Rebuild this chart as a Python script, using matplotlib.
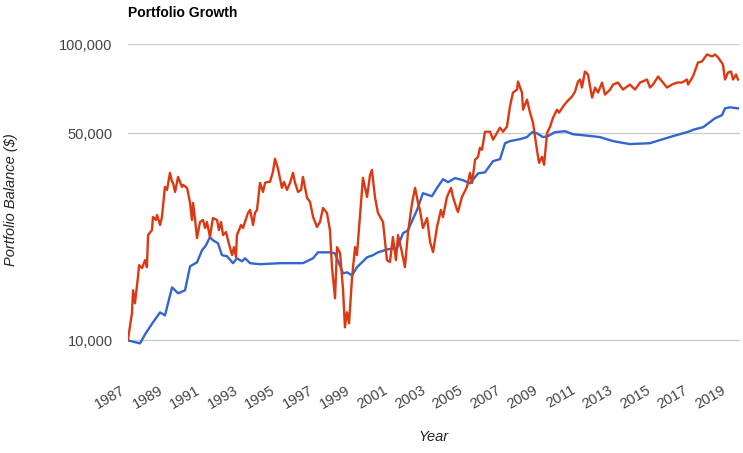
import matplotlib
matplotlib.use('Agg')
import matplotlib.pyplot as plt
from matplotlib.ticker import FixedLocator, FuncFormatter, NullLocator

plt.rcParams['font.family'] = ['Liberation Sans', 'DejaVu Sans']

# portfolio 1 (blue, smooth)
blue_years = [1987.00, 1987.64, 1987.91, 1988.33, 1988.71, 1988.97, 1989.35, 1989.67,
              1990.04, 1990.31, 1990.68, 1990.95, 1991.16, 1991.37, 1991.53, 1991.80,
              1992.01, 1992.28, 1992.60, 1992.81, 1993.08, 1993.24, 1993.51, 1994.04,
              1995.11, 1996.33, 1996.87, 1997.13, 1997.77, 1998.04, 1998.47, 1998.68,
              1998.95, 1999.21, 1999.75, 2000.07, 2000.33, 2000.87, 2001.35, 2001.67,
              2001.93, 2002.41, 2002.73, 2003.21, 2003.48, 2003.80, 2004.07, 2004.44,
              2004.87, 2005.24, 2005.67, 2006.04, 2006.47, 2006.84, 2007.11, 2007.37,
              2007.91, 2008.28, 2008.55, 2008.81, 2009.13, 2009.40, 2009.77, 2010.31,
              2010.73, 2011.27, 2012.17, 2012.87, 2013.77, 2014.84, 2015.37, 2016.07,
              2016.81, 2017.24, 2017.67, 2018.31, 2018.68, 2018.84, 2019.11, 2019.53]
blue_values = [10000, 9770, 10480, 11500, 12430, 12140, 15100, 14420,
               14750, 17780, 18340, 20150, 20950, 22300, 21770, 21270,
               19390, 19230, 18220, 18930, 18480, 18930, 18220, 18070,
               18220, 18220, 18930, 19820, 19820, 19650, 16830, 16970,
               16570, 17650, 19070, 19390, 19820, 20300, 20470, 23000,
               23530, 27500, 31380, 30650, 32670, 34990, 34180, 35290,
               34710, 33870, 36600, 36900, 40240, 40890, 46280, 47020,
               47770, 48520, 50400, 50000, 48520, 48900, 50400, 50800,
               49610, 49230, 48520, 47020, 45950, 46280, 47390, 48900,
               50400, 51580, 52380, 56170, 57520, 60660, 61130, 60660]

# portfolio 2 (red, volatile)
red_years = [1987.00, 1987.21, 1987.27, 1987.37, 1987.53, 1987.59, 1987.75, 1987.91,
             1988.01, 1988.07, 1988.28, 1988.33, 1988.49, 1988.55, 1988.71, 1988.81,
             1988.97, 1989.08, 1989.24, 1989.35, 1989.40, 1989.51, 1989.67, 1989.88,
             1989.93, 1990.15, 1990.31, 1990.41, 1990.47, 1990.57, 1990.68, 1990.84,
             1991.00, 1991.11, 1991.21, 1991.37, 1991.53, 1991.75, 1991.85, 1991.96,
             1992.07, 1992.23, 1992.33, 1992.55, 1992.65, 1992.76, 1992.81, 1993.03,
             1993.13, 1993.40, 1993.51, 1993.67, 1993.77, 1993.88, 1994.04, 1994.20,
             1994.31, 1994.47, 1994.57, 1994.73, 1994.84, 1995.00, 1995.21, 1995.32,
             1995.48, 1995.64, 1995.80, 1995.91, 1996.07, 1996.23, 1996.33, 1996.55,
             1996.71, 1996.87, 1997.08, 1997.24, 1997.40, 1997.61, 1997.77, 1997.88,
             1998.04, 1998.15, 1998.31, 1998.47, 1998.57, 1998.68, 1998.79, 1998.95,
             1999.11, 1999.21, 1999.37, 1999.53, 1999.75, 1999.91, 2000.01, 2000.17,
             2000.33, 2000.60, 2000.81, 2000.97, 2001.13, 2001.29, 2001.40, 2001.61,
             2001.77, 2001.93, 2002.15, 2002.31, 2002.47, 2002.57, 2002.73, 2002.95,
             2003.11, 2003.27, 2003.48, 2003.69, 2003.80, 2004.01, 2004.23, 2004.33,
             2004.55, 2004.60, 2004.81, 2005.08, 2005.24, 2005.35, 2005.51, 2005.67,
             2005.77, 2005.88, 2006.04, 2006.31, 2006.47, 2006.84, 2007.00, 2007.21,
             2007.37, 2007.53, 2007.75, 2007.80, 2008.01, 2008.07, 2008.28, 2008.44,
             2008.60, 2008.81, 2008.92, 2009.08, 2009.19, 2009.35, 2009.51, 2009.67,
             2009.88, 2009.99, 2010.20, 2010.41, 2010.68, 2010.84, 2011.00, 2011.11,
             2011.21, 2011.37, 2011.53, 2011.75, 2011.91, 2012.07, 2012.28, 2012.44,
             2012.71, 2012.87, 2013.13, 2013.40, 2013.77, 2014.04, 2014.31, 2014.68,
             2014.84, 2015.00, 2015.27, 2015.53, 2015.75, 2016.01, 2016.28, 2016.55,
             2016.81, 2016.87, 2017.13, 2017.40, 2017.61, 2017.88, 2018.15, 2018.31,
             2018.47, 2018.73, 2018.84, 2019.00, 2019.16, 2019.27, 2019.43, 2019.53]
red_values = [10080, 12340, 14770, 13340, 16340, 17940, 17530, 18660,
              17660, 22670, 23570, 26080, 25480, 26490, 24510, 26080,
              32950, 32190, 36750, 34260, 34000, 31690, 35620, 32950,
              33470, 32700, 29090, 25480, 29090, 25880, 22140, 25090,
              25480, 23940, 25090, 22320, 25880, 25480, 23570, 25090,
              22670, 23200, 21800, 19400, 20640, 19100, 22670, 24510,
              23940, 26910, 27550, 24510, 26910, 27550, 34000, 31690,
              34000, 34260, 34260, 37040, 40990, 37920, 32700, 34260,
              32190, 34000, 36750, 34000, 31690, 32190, 35620, 30250,
              29320, 26080, 24130, 25090, 27980, 26910, 23570, 17660,
              13870, 20640, 19700, 14770, 11070, 12440, 11420, 16340,
              20640, 19400, 26080, 35350, 30480, 36190, 37620, 30480,
              26910, 25090, 18660, 18370, 22320, 18660, 22670, 19850,
              17660, 23030, 29090, 32700, 29090, 27550, 23940, 25880,
              21460, 19850, 24130, 27550, 26080, 30480, 32700, 30480,
              27550, 27120, 30480, 32950, 36750, 34000, 40670, 41630,
              44660, 43970, 50590, 50590, 47540, 52200, 50590, 52600,
              61470, 68570, 70190, 74700, 68570, 60060, 64930, 58670,
              54270, 43970, 39730, 41630, 39120, 50000, 52600, 56430,
              60060, 58670, 61470, 63920, 66460, 69100, 74700, 75880,
              71290, 80760, 78890, 65950, 71290, 68570, 74120, 67510,
              70190, 72980, 74120, 70190, 72980, 70190, 74120, 75880,
              71290, 72980, 77670, 74120, 71290, 72980, 74120, 74120,
              75880, 72980, 77670, 86630, 87300, 92200, 90770, 92200,
              90070, 85290, 75880, 80130, 80760, 75880, 78890, 75880]

tick_years = list(range(1987, 2020, 2))
grid_values = [10000, 50000, 100000]

fig = plt.figure(figsize=(7.43, 4.53), dpi=100)
ax = fig.add_axes([128/743, 1 - 347/453, 612/743, (347 - 44)/453])

ax.plot(blue_years, blue_values, color='#3366cc', lw=1.7, solid_joinstyle='round', zorder=3)
ax.plot(red_years, red_values, color='#dc3912', lw=1.7, solid_joinstyle='round', zorder=4)

ax.set_yscale('log')
ax.set_ylim(9500, 100000)
ax.set_xlim(1987, 1987 + 612/18.75)

ax.yaxis.set_major_locator(FixedLocator(grid_values))
ax.yaxis.set_minor_locator(NullLocator())
ax.yaxis.set_major_formatter(FuncFormatter(lambda v, p: '{:,.0f}'.format(v)))
ax.set_xticks(tick_years)
ax.set_xticklabels([str(y) for y in tick_years], rotation=30, ha='right', va='top')

ax.grid(axis='y', color='#cccccc', lw=1)
ax.set_axisbelow(True)
for s in ax.spines.values():
    s.set_visible(False)
ax.tick_params(axis='y', length=0, pad=11, labelsize=10.5, labelcolor='#444444')
ax.tick_params(axis='x', length=0, pad=26, labelsize=10.5, labelcolor='#444444')

fig.text(128/743, 1 - 13/453, 'Portfolio Growth', fontsize=10, fontweight='bold',
         color='black', ha='left', va='center')
fig.text(11/743, 1 - 200/453, 'Portfolio Balance ($)', fontsize=10.5, style='italic',
         color='#222222', rotation=90, ha='center', va='center')
fig.text(434/743, 1 - 437/453, 'Year', fontsize=10.5, style='italic',
         color='#222222', ha='center', va='center')

fig.savefig('out.png', dpi=100)
